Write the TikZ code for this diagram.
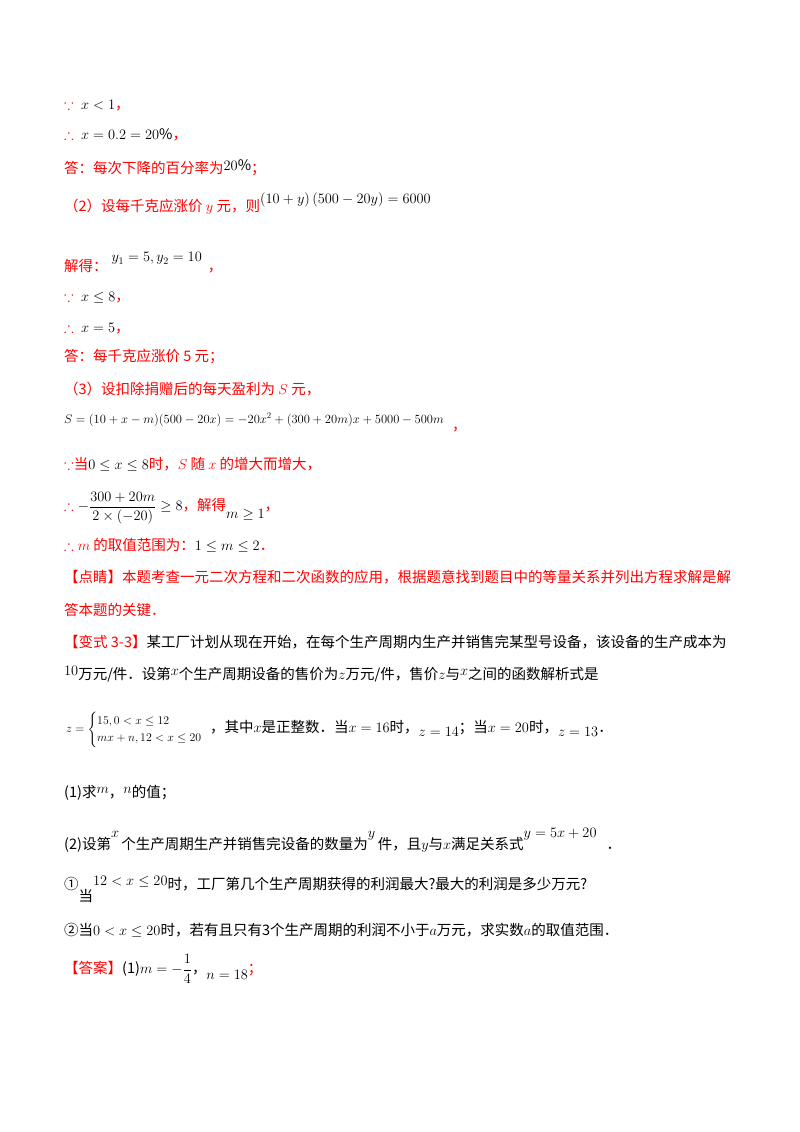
\documentclass[tikz,border=0pt]{standalone}
\usepackage{amsmath,amssymb}
\usepackage{fontspec}
\setmainfont{Noto Sans CJK SC}
\definecolor{ans}{RGB}{255,0,0}
\begin{document}
\begin{tikzpicture}[x=1pt,y=-1pt,
  ln/.style={anchor=west,inner sep=0pt,font=\fontsize{14.5}{17}\selectfont},
  rd/.style={ln,text=ans},
  bk/.style={ln,text=black}]
\useasboundingbox (0,0) rectangle (800,1132);
\fill[white] (0,0) rectangle (800,1132);
\node[rd] (l1) at (64,105) {$\because\ \textcolor{black}{x<1}$，};
\node[rd] (l2) at (64,135) {$\therefore\ \textcolor{black}{x=0.2=20\%}$，};
\node[rd] (l3) at (64,168) {答：每次下降的百分率为\raisebox{3pt}{\textcolor{black}{$20\%$}}；};
\node[rd] (l4) at (64,203) {（2）设每千克应涨价 $y$ 元，则\raisebox{8pt}{\textcolor{black}{$\left(10+y\right)\left(500-20y\right)=6000$}}};
\node[rd] (l5) at (64,263) {解得：\raisebox{10pt}{\textcolor{black}{$\;y_1=5,y_2=10$}}\hspace{6pt}，};
\node[rd] (l6) at (64,297) {$\because\ \textcolor{black}{x\le 8}$，};
\node[rd] (l7) at (64,328) {$\therefore\ \textcolor{black}{x=5}$，};
\node[rd] (l8) at (64,357) {答：每千克应涨价 5 元；};
\node[rd] (l9) at (64,389) {（3）设扣除捐赠后的每天盈利为 $S$ 元，};
\node[bk] (l10) at (64,420) {\scalebox{0.87}{$S=(10+x-m)(500-20x)=-20x^2+(300+20m)x+5000-500m$}};
\node[rd] (l10c) at (452,430) {，};
\node[rd] (l11) at (64,464) {$\because$当\textcolor{black}{$0\le x\le 8$}时，$S$ 随 $x$ 的增大而增大，};
\node[rd] (l12) at (64,508) {$\therefore\textcolor{black}{-\dfrac{300+20m}{2\times(-20)}\ge 8}$，解得\raisebox{-8pt}{\textcolor{black}{$m\ge 1$}}，};
\node[rd] (l13) at (64,545) {$\therefore m$ 的取值范围为：\textcolor{black}{$1\le m\le 2$}．};
\node[rd] (l14) at (64,577) {【点睛】本题考查一元二次方程和二次函数的应用，根据题意找到题目中的等量关系并列出方程求解是解};
\node[rd] (l15) at (64,610) {答本题的关键．};
\node[bk] (l16) at (64,642) {\textcolor{ans}{【变式 3-3】}某工厂计划从现在开始，在每个生产周期内生产并销售完某型号设备，该设备的生产成本为};
\node[bk] (l17) at (64,674) {\raisebox{4pt}{$10$}万元/件．设第\raisebox{4pt}{$x$}个生产周期设备的售价为$z$万元/件，售价$z$与\raisebox{4pt}{$x$}之间的函数解析式是};
\node[bk] (l18) at (66,730) {\scalebox{0.82}{$z=\begin{cases}15,0<x\le 12\\ mx+n,12<x\le 20\end{cases}$}\hspace{-4pt}，其中$x$是正整数．当$x=16$时，\raisebox{-4pt}{$z=14$}；当$x=20$时，\raisebox{-4pt}{$z=13$}．};
\node[bk] (l19) at (64,793) {(1)求\raisebox{4pt}{$m$}，\raisebox{4pt}{$n$}的值；};
\node[bk] (l20) at (64,840) {(2)设第\raisebox{12pt}{$x$}\,个生产周期生产并销售完设备的数量为\raisebox{12pt}{$y$}\,件，且$y$与$x$满足关系式\raisebox{12pt}{$y=5x+20$}\hspace{10pt}．};
\node[bk] (l21) at (64,889) {①\raisebox{-12pt}{当}\raisebox{4pt}{$12<x\le 20$}时，工厂第几个生产周期获得的利润最大?最大的利润是多少万元?};
\node[bk] (l22) at (64,930) {②当$0<x\le 20$时，若有且只有3个生产周期的利润不小于$a$万元，求实数$a$的取值范围．};
\node[bk] (l23) at (64,969) {\textcolor{ans}{【答案】}(1)$m=-\dfrac14$，\raisebox{-6pt}{$n=18$}\textcolor{ans}{；}};
\end{tikzpicture}
\end{document}
